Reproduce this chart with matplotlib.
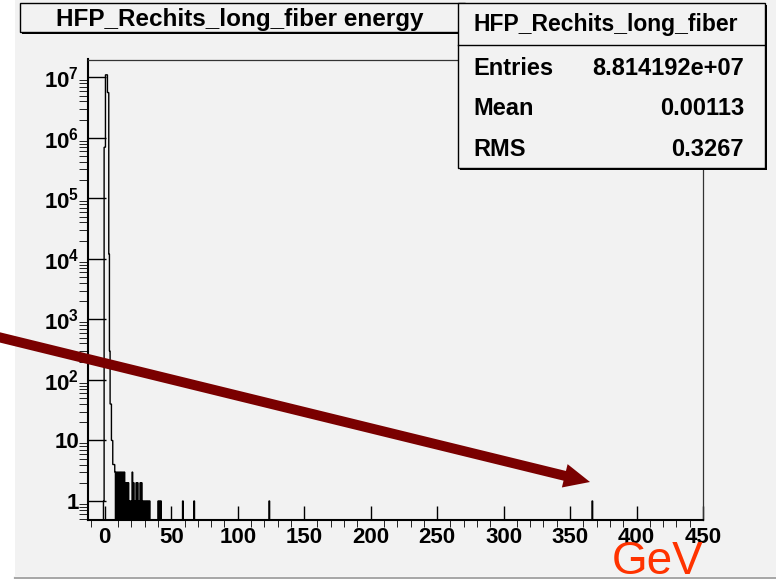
import numpy as np
import matplotlib
matplotlib.use('Agg')
import matplotlib.pyplot as plt
from matplotlib.patches import Rectangle, FancyArrow
from matplotlib.lines import Line2D
from matplotlib.ticker import FixedLocator, LogLocator, MultipleLocator, NullFormatter

plt.rcParams['font.family'] = 'Liberation Sans'
plt.rcParams['mathtext.fontset'] = 'custom'
plt.rcParams['mathtext.rm'] = 'Liberation Sans:bold'
plt.rcParams['mathtext.bf'] = 'Liberation Sans:bold'

W, H = 776, 579
BG = '#f2f2f2'

# HF+ long fibre rechit energy, 0.5 GeV bins (only the filled bins are listed)
bin_width = 0.5
x_lo, x_hi = -13.0, 450.0
hit_energy = [-1.0, -0.5, 0.0, 0.5, 1.0, 1.5, 2.0, 2.5, 3.0, 3.5, 4.0, 4.5,
              5.0, 5.5, 6.0, 6.5, 7.0,
              7.5, 8.5, 9.5, 10.5, 11.5, 12.5, 13.5, 14.5,
              15.5, 16.5, 17.5, 18.5, 19.5, 20.5, 21.5, 22.5, 23.5, 24.5,
              25.5, 26.5, 27.5, 28.5, 29.5, 30.5, 31.5, 32.5, 33.5,
              40.0, 41.0, 42.0, 58.5, 67.0, 123.5, 366.5]
hit_counts = [1, 7e5, 7e5, 1.1e7, 1.1e7, 1.1e7, 5.6e6, 5.6e6, 1.2e4, 300, 40, 40,
              10, 10, 4, 4, 4,
              3, 3, 3, 3, 3, 3, 3, 3,
              2, 2, 2, 1, 1, 3, 2, 1, 2, 2,
              1, 2, 2, 1, 1, 1, 1, 1, 1,
              1, 1, 1, 1, 1, 1, 1]

hist_name = 'HFP_Rechits_long_fiber'
hist_title = 'HFP_Rechits_long_fiber energy'
stat_names = ['Entries', 'Mean', 'RMS']
stat_values = ['8.814192e+07', '0.00113', '0.3267']

x_ticks = [0, 50, 100, 150, 200, 250, 300, 350, 400, 450]
y_ticks = [1, 10, 1e2, 1e3, 1e4, 1e5, 1e6, 1e7]
y_tick_labels = ['1', '10'] + [r'$\mathbf{10^{%d}}$' % k for k in range(2, 8)]

edges = np.arange(x_lo, x_hi + bin_width / 2, bin_width)
counts = np.zeros(len(edges) - 1)
idx = np.round((np.array(hit_energy) - x_lo) / bin_width).astype(int)
counts[idx] = hit_counts
floor = 1e-3

fig = plt.figure(figsize=(W / 100, H / 100), dpi=100, facecolor='white')

# canvas background and bottom rule
fig.patches.append(Rectangle((15 / W, 1 - 576 / H), 1 - 15 / W, 576 / H,
                             transform=fig.transFigure, fc=BG, ec='none', zorder=-10))
fig.add_artist(Line2D([15 / W, 1], [1 - 577.5 / H] * 2, color='#a8a8a8', lw=1.6))

ax = fig.add_axes([87.5 / W, 1 - 520 / H, (703 - 87.5) / W, (520 - 59.5) / H])
ax.set_facecolor(BG)
ax.set_yscale('log')
ax.stairs(np.where(counts > 0, counts, floor), edges, baseline=floor,
          color='black', lw=1.0)
ax.set_xlim(x_lo, x_hi)
ax.set_ylim(0.485, 1.97e7)

ax.xaxis.set_major_locator(FixedLocator(x_ticks))
ax.set_xticklabels([str(t) for t in x_ticks])
ax.xaxis.set_minor_locator(MultipleLocator(10))
ax.set_yticks(y_ticks, y_tick_labels)
ax.yaxis.set_minor_locator(LogLocator(base=10, subs=np.arange(2, 10), numticks=30))
ax.yaxis.set_minor_formatter(NullFormatter())

ax.tick_params(direction='in', top=False, right=False, labelsize=16, width=1.0)
ax.tick_params(axis='x', which='major', length=10, pad=5)
ax.tick_params(axis='x', which='minor', length=5)
ax.tick_params(axis='y', which='major', length=13.3, pad=6)
ax.tick_params(axis='y', which='minor', length=6.6)
for lbl in ax.get_xticklabels() + ax.get_yticklabels():
    lbl.set_fontweight('bold')

for side in ['left', 'bottom']:
    ax.spines[side].set_linewidth(1.5)
for side in ['top', 'right']:
    ax.spines[side].set_linewidth(0.9)
    ax.spines[side].set_color('#333333')


def pave(x0, y0, x1, y1):
    # boxed label with a drop shadow, coordinates in pixels from the top-left
    tr = fig.dpi_scale_trans
    fig.add_artist(Rectangle((x0 / 100 + 0.02, (H - y1) / 100 - 0.02), (x1 - x0) / 100,
                             (y1 - y0) / 100, transform=tr, fc='black', ec='none', zorder=5))
    fig.add_artist(Rectangle((x0 / 100, (H - y1) / 100), (x1 - x0) / 100, (y1 - y0) / 100,
                             transform=tr, fc=BG, ec='black', lw=1.0, zorder=6))


def ftext(x, y, s, **kw):
    fig.text(x / W, 1 - y / H, s, va='baseline', zorder=7, **kw)


# title box
pave(20, 3, 465, 32)
ftext(240, 26, hist_title, ha='center', fontsize=17.5, fontweight='bold')

# statistics box
pave(458, 3, 765, 168)
fig.add_artist(Line2D([458 / W, 765 / W], [1 - 45 / H] * 2, color='black', lw=1.0, zorder=7))
ftext(606, 31, hist_name, ha='center', fontsize=16.5, fontweight='bold')
for name, val, yb in zip(stat_names, stat_values, [75, 115, 156]):
    ftext(473, yb, name, ha='left', fontsize=17, fontweight='bold')
    ftext(744, yb, val, ha='right', fontsize=17, fontweight='bold')

ftext(612, 574, 'GeV', ha='left', fontsize=33, color='#ff3300')

# pointer arrow
x_a, y_a = -10, 335
x_b, y_b = 590, 482
fig.add_artist(FancyArrow(x_a / 100, (H - y_a) / 100, (x_b - x_a) / 100, -(y_b - y_a) / 100,
                          width=0.10, head_width=0.24, head_length=0.26,
                          length_includes_head=True, fc='#7a0000', ec='none',
                          transform=fig.dpi_scale_trans, zorder=8))

fig.savefig('out.png', dpi=100, facecolor='white')
